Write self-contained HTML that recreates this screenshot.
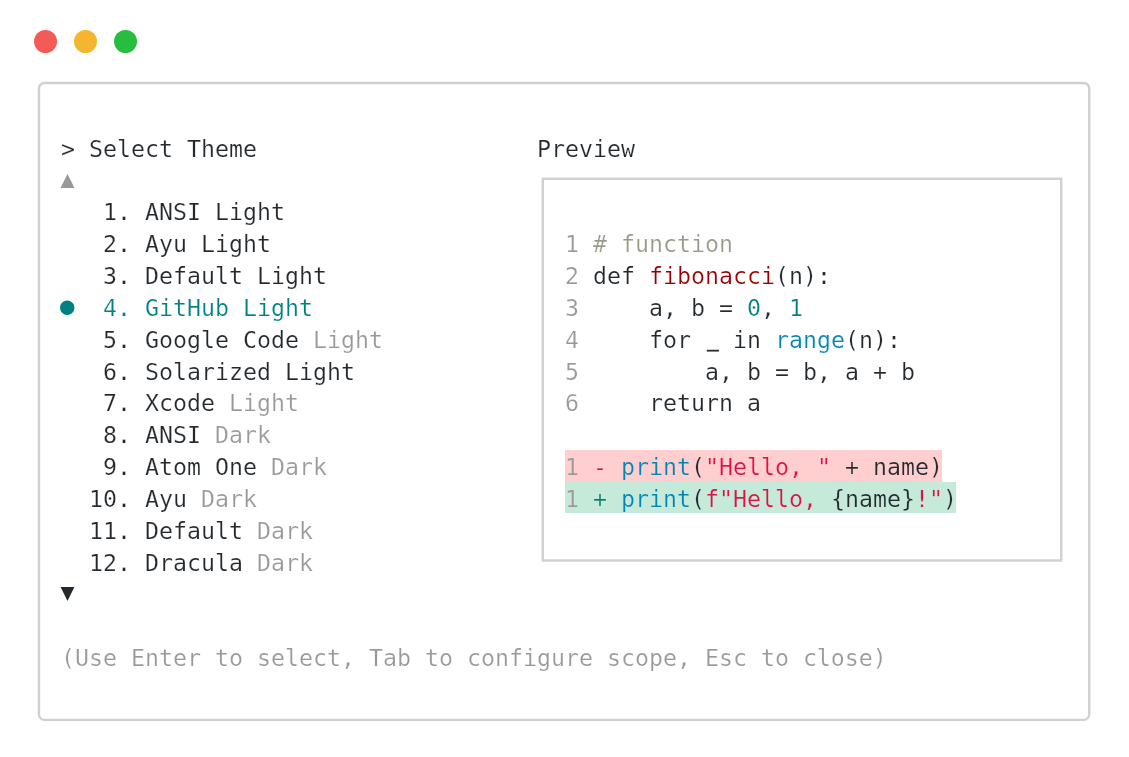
<!DOCTYPE html>
<html lang="en">
<head>
<meta charset="utf-8">
<title>Select Theme</title>
<style>
html,body{margin:0;padding:0;background:#fff;}
body{width:1129px;height:757px;position:relative;overflow:hidden;font-family:"DejaVu Sans Mono", "Liberation Mono", monospace;font-size:23.254px;line-height:31.82px;color:#24292e;}
.lights i{position:absolute;top:30px;width:23px;height:23px;border-radius:50%;display:block;}
.boxes{position:absolute;left:0;top:0;}
.r{position:absolute;white-space:pre;height:31.82px;will-change:transform;-webkit-text-stroke:0.2px #fff;}
.rd{-webkit-text-stroke-color:#ffcece;}
.gr{-webkit-text-stroke-color:#c5ead9;}
.g{color:#999;}
.sel{color:#008080;}
.cm{color:#998;}
.fn{color:#900;}
.nu{color:#008080;}
.bi{color:#0086b3;}
.st{color:#d14;}
.rm{color:#d14;}
.ad{color:#0a7d6e;}
.us{display:inline-block;transform-origin:50% 100%;transform:translate(1.0px,-2.2px) scale(0.84,1.12);-webkit-text-stroke:0.5px #24292e;}
.dot,.tri{-webkit-text-stroke:0;}
.del{background:#ffcece;}
.add{background:#c5ead9;}
.dot,.tri{display:inline-block;width:14.0px;text-align:center;position:relative;}
.tri{top:-2.0px;left:-0.6px;}
.dot{top:-2.3px;left:-0.9px;font-size:24px;line-height:1px;}
</style>
</head>
<body>
<div class="lights"><i style="left:34px;background:#f45b57"></i><i style="left:74px;background:#f6b52e"></i><i style="left:114px;background:#27be40"></i></div>
<svg class="boxes" width="1129" height="757" viewBox="0 0 1129 757"><rect x="38.95" y="83.05" width="1050.25" height="636.8" rx="5.5" ry="5.5" fill="none" stroke="#d0d0d0" stroke-width="2.4"/><rect x="542.8" y="178.8" width="518.4" height="381.7" fill="none" stroke="#d0d0d0" stroke-width="2.4"/></svg>
<div class="del" style="position:absolute;left:564.7px;top:449.9px;width:377.6px;height:31.7px"></div>
<div class="add" style="position:absolute;left:564.7px;top:481.6px;width:391.6px;height:31.5px"></div>
<div class="r " style="left:61.2px;top:132.84px">&gt; Select Theme</div>
<div class="r g" style="left:61.2px;top:164.66px"><span class="tri up">▲</span></div>
<div class="r " style="left:61.2px;top:196.48px">   1. ANSI Light</div>
<div class="r " style="left:61.2px;top:228.30px">   2. Ayu Light</div>
<div class="r " style="left:61.2px;top:260.12px">   3. Default Light</div>
<div class="r sel" style="left:61.2px;top:291.94px"><span class="dot">●</span>  4. GitHub Light</div>
<div class="r " style="left:61.2px;top:323.76px">   5. Google Code <span class="g">Light</span></div>
<div class="r " style="left:61.2px;top:355.58px">   6. Solarized Light</div>
<div class="r " style="left:61.2px;top:387.40px">   7. Xcode <span class="g">Light</span></div>
<div class="r " style="left:61.2px;top:419.22px">   8. ANSI <span class="g">Dark</span></div>
<div class="r " style="left:61.2px;top:451.04px">   9. Atom One <span class="g">Dark</span></div>
<div class="r " style="left:61.2px;top:482.86px">  10. Ayu <span class="g">Dark</span></div>
<div class="r " style="left:61.2px;top:514.68px">  11. Default <span class="g">Dark</span></div>
<div class="r " style="left:61.2px;top:546.50px">  12. Dracula <span class="g">Dark</span></div>
<div class="r " style="left:61.2px;top:578.32px"><span class="tri dn">▼</span></div>
<div class="r g" style="left:61.2px;top:641.96px">(Use Enter to select, Tab to configure scope, Esc to close)</div>
<div class="r " style="left:537.1px;top:132.84px">Preview</div>
<div class="r " style="left:565.2px;top:228.30px"><span class="g">1</span> <span class="cm"># function</span></div>
<div class="r " style="left:565.2px;top:260.12px"><span class="g">2</span> def <span class="fn">fibonacci</span>(n):</div>
<div class="r " style="left:565.2px;top:291.94px"><span class="g">3</span>     a, b = <span class="nu">0</span>, <span class="nu">1</span></div>
<div class="r " style="left:565.2px;top:323.76px"><span class="g">4</span>     for <span class="us">_</span> in <span class="bi">range</span>(n):</div>
<div class="r " style="left:565.2px;top:355.58px"><span class="g">5</span>         a, b = b, a + b</div>
<div class="r " style="left:565.2px;top:387.40px"><span class="g">6</span>     return a</div>
<div class="r rd" style="left:565.2px;top:451.04px"><span class="g">1</span> <span class="rm">-</span> <span class="bi">print</span>(<span class="st">"Hello, "</span> + name)</div>
<div class="r gr" style="left:565.2px;top:482.86px"><span class="g">1</span> <span class="ad">+</span> <span class="bi">print</span>(<span class="st">f"Hello, </span>{name}<span class="st">!"</span>)</div>
</body>
</html>
